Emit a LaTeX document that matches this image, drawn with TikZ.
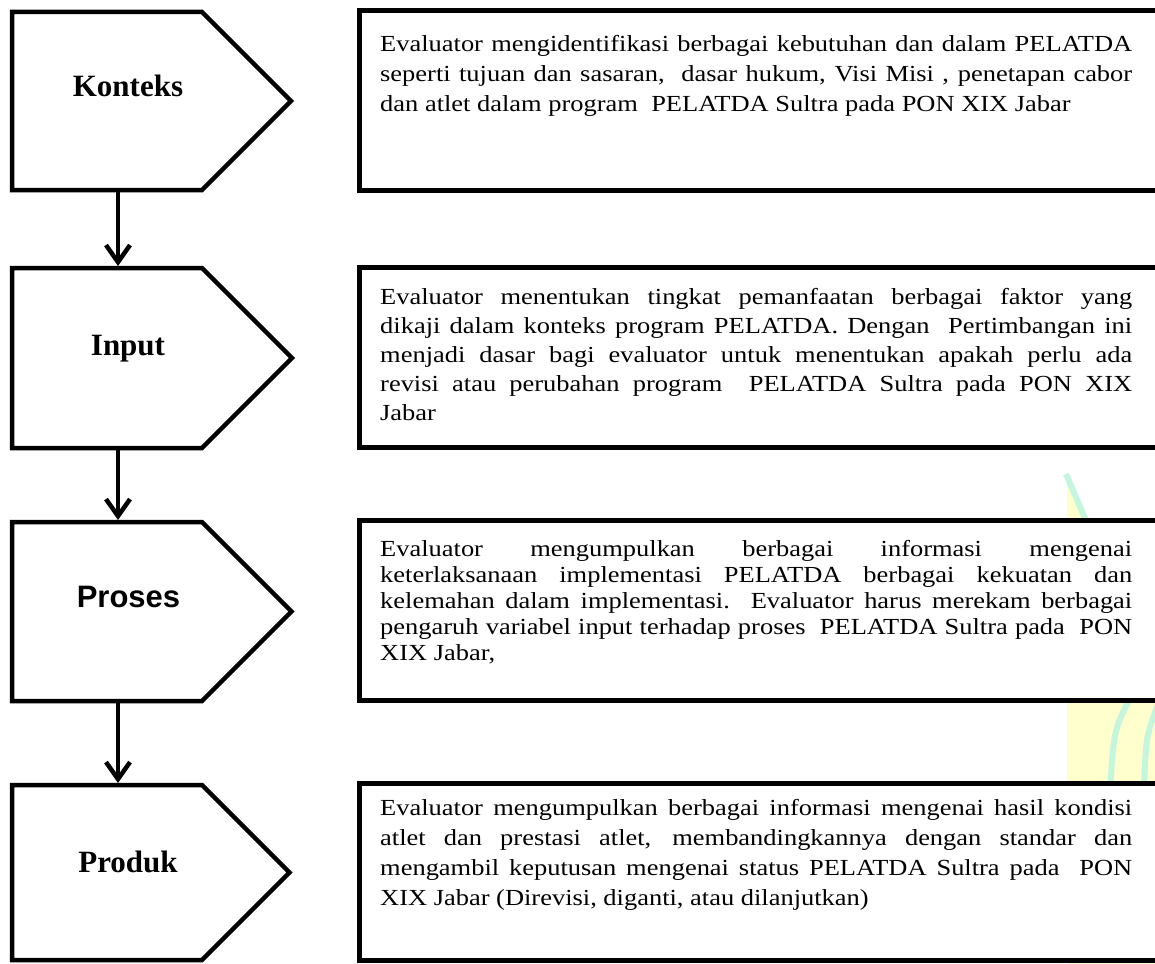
\documentclass[tikz,border=0pt]{standalone}
\usepackage{fontspec}
\setmainfont{Liberation Serif}
\newfontfamily\bodyfont[FakeStretch=1.15]{Liberation Serif}
\newfontfamily\labsans{Liberation Sans}
\usetikzlibrary{arrows.meta}
\definecolor{wmyellow}{RGB}{255,255,206}
\definecolor{wmgreen}{RGB}{196,246,222}
\newcommand\jline[1]{\makebox[\linewidth][s]{#1}\par}
\begin{document}
\begin{tikzpicture}[x=1pt,y=-1pt,
  pent/.style={draw=black, line width=4.5pt, fill=white, line join=miter},
  tbox/.style={draw=black, line width=5pt, fill=white},
  lab/.style={font=\fontsize{31}{36}\selectfont\bfseries, anchor=base, inner sep=0pt},
  flow/.style={line width=4.5pt, -{Straight Barb[length=17pt,width=24pt]}},
  body/.style={anchor=base west, inner sep=0pt, font=\bodyfont}
]
\useasboundingbox (0,0) rectangle (1155,963);
\clip (0,0) rectangle (1155,963);
\fill[white] (0,0) rectangle (1155,963);

% watermark
\fill[wmyellow] (1067,477) -- (1088,525) -- (1165,545) -- (1165,970) -- (1067,970) -- cycle;
\draw[wmgreen, line width=6pt] (1066,474) -- (1090,530);
\draw[wmgreen, line width=6pt] (1130,698) .. controls (1114,730) .. (1110,790);
\draw[wmgreen, line width=6pt] (1160,700) .. controls (1146,735) .. (1144,790);

% right text boxes
\draw[tbox] (359,11) rectangle (1175,190);
\draw[tbox] (359,267) rectangle (1175,447);
\draw[tbox] (359,520) rectangle (1175,700);
\draw[tbox] (359,783) rectangle (1175,960);

% pentagons
\draw[pent] (12,12) -- (202,12) -- (291,101) -- (202,190) -- (12,190) -- cycle;
\draw[pent] (12,268) -- (202,268) -- (292,358) -- (202,448) -- (12,448) -- cycle;
\draw[pent] (12,522) -- (202,522) -- (291.5,611.5) -- (202,701) -- (12,701) -- cycle;
\draw[pent] (12,785) -- (202,785) -- (289.5,872.5) -- (202,960) -- (12,960) -- cycle;

\coordinate (kb) at (118,192);
\coordinate (it) at (118,266);
\coordinate (ib) at (118,450);
\coordinate (pt) at (118,520);
\coordinate (pb) at (118,703);
\coordinate (rt) at (118,783);

\draw[flow] (kb) -- (it);
\draw[flow] (ib) -- (pt);
\draw[flow] (pb) -- (rt);

% labels
\node[lab] (lk) at (128,97) {Konteks};
\node[lab] (li) at (128,355) {Input};
\node[lab, font=\labsans\fontsize{31}{36}\selectfont\bfseries] (lp) at (128.5,607) {Proses};
\node[lab] (lr) at (128,872) {Produk};

% texts
\node[body] (t1) at (380,52) {\parbox[t]{752pt}{\fontsize{23}{30}\selectfont
\jline{Evaluator mengidentifikasi berbagai kebutuhan dan dalam PELATDA}
\jline{seperti tujuan dan sasaran,\ \ dasar hukum, Visi Misi , penetapan cabor}
dan atlet dalam program\ \ PELATDA Sultra pada PON XIX Jabar}};

\node[body] (t2) at (380,304) {\parbox[t]{752pt}{\fontsize{23}{29}\selectfont
\jline{Evaluator menentukan tingkat pemanfaatan berbagai faktor yang}
\jline{dikaji dalam konteks program PELATDA. Dengan\ \ Pertimbangan ini}
\jline{menjadi dasar bagi evaluator untuk menentukan apakah perlu ada}
\jline{revisi atau perubahan program\ \ PELATDA Sultra pada PON XIX}
Jabar}};

\node[body] (t3) at (380,556) {\parbox[t]{752pt}{\fontsize{23}{26}\selectfont
\jline{Evaluator mengumpulkan berbagai informasi mengenai}
\jline{keterlaksanaan implementasi PELATDA berbagai kekuatan dan}
\jline{kelemahan dalam implementasi. Evaluator harus merekam berbagai}
\jline{pengaruh variabel input terhadap proses\ \ PELATDA Sultra pada\ \ PON}
XIX Jabar,}};

\node[body] (t4) at (380,815) {\parbox[t]{752pt}{\fontsize{23}{30}\selectfont
\jline{Evaluator mengumpulkan berbagai informasi mengenai hasil kondisi}
\jline{atlet dan prestasi atlet, membandingkannya dengan standar dan}
\jline{mengambil keputusan mengenai status PELATDA Sultra pada\ \ PON}
XIX Jabar (Direvisi, diganti, atau dilanjutkan)}};
\end{tikzpicture}
\end{document}
